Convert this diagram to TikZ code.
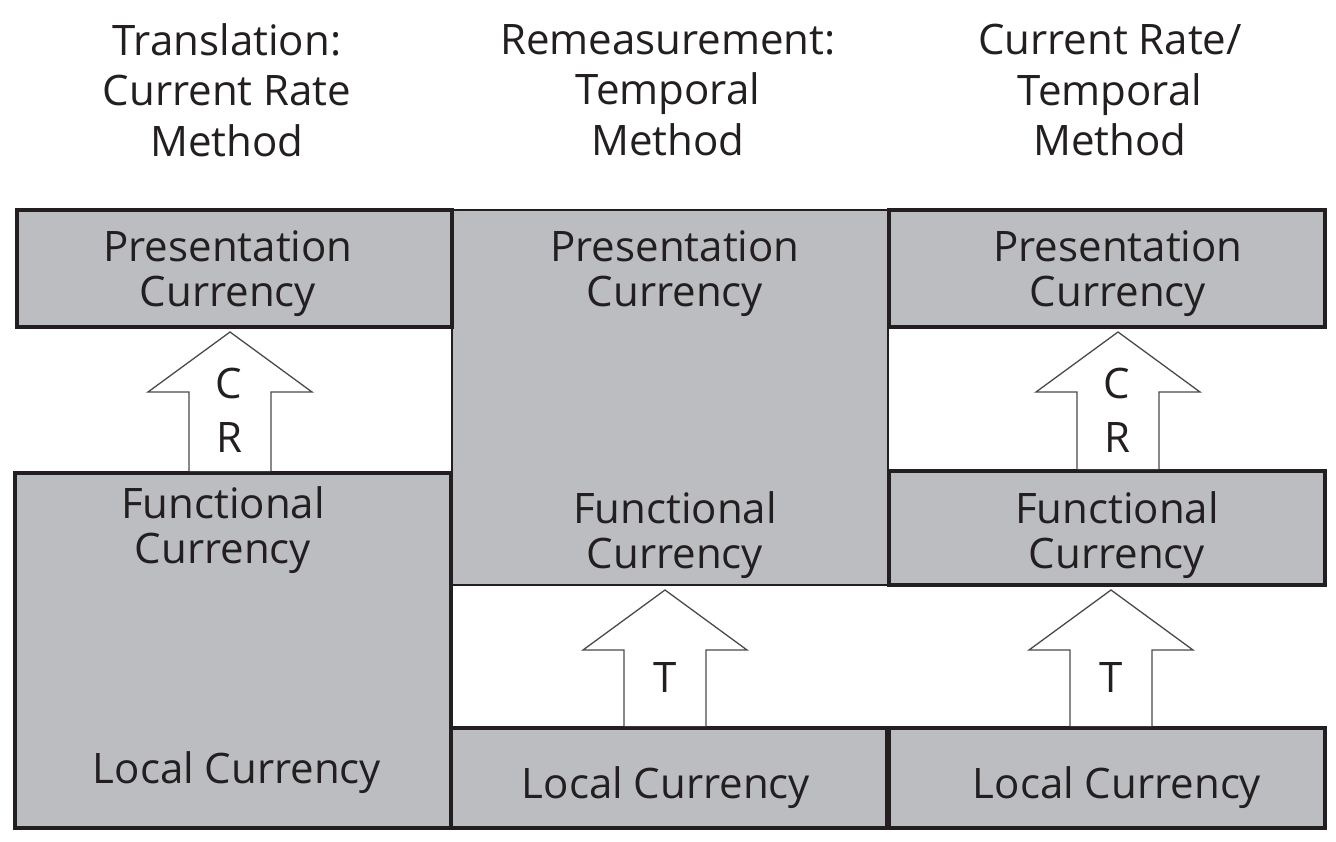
\documentclass[tikz,border=0pt]{standalone}
\usepackage{fontspec}
\setmainfont{Open Sans}
\usetikzlibrary{calc}
\definecolor{ink}{HTML}{231F20}
\definecolor{boxgray}{HTML}{BCBDC0}
\definecolor{arrowline}{HTML}{4A4A4A}
\begin{document}
\begin{tikzpicture}[x=1pt,y=-1pt,
  box/.style={draw=ink, line width=4pt, fill=boxgray, inner sep=0pt, outer sep=0pt},
  thinbox/.style={box, line width=1.5pt},
  lbl/.style={text=ink, font=\fontsize{42}{45}\selectfont, align=center, inner sep=0pt},
  ttl/.style={lbl, font=\fontsize{42}{50.5}\selectfont},
  ltr/.style={lbl, font=\fontsize{42}{54}\selectfont},
  uparrow/.style={draw=arrowline, fill=white, line width=1.3pt, line join=miter}]
\useasboundingbox (0,0) rectangle (1336,842);
\node[ttl] (ttl1) at (227,90) {Translation:\\Current Rate\\Method};
\node[ttl] (ttl2) at (668,90) {Remeasurement:\\Temporal\\Method};
\node[ttl] (ttl3) at (1110,90) {Current Rate/\\Temporal\\Method};
\node[thinbox, minimum width=436pt, minimum height=375pt] (big2) at (670,397.5){};
\node[box, minimum width=435pt, minimum height=117pt] (pres1) at (234.5,268.5){};
\node[box, minimum width=436pt, minimum height=355pt] (fl1) at (233,650.5){};
\node[box, minimum width=436pt, minimum height=100pt] (loc2) at (669,778){};
\node[box, minimum width=436pt, minimum height=117pt] (pres3) at (1107,268.5){};
\node[box, minimum width=436pt, minimum height=114pt] (fun3) at (1107,528){};
\node[box, minimum width=436pt, minimum height=100pt] (loc3) at (1107,778){};
\coordinate (a1) at (230,0);
\coordinate (a2) at (665,0);
\coordinate (a3) at (1118,0);
\coordinate (a4) at (1111,0);
\draw[uparrow] ($(fl1.north -| a1)+(-41,-2)$) |- ($(pres1.south -| a1)+(-82,65)$) -- ($(pres1.south -| a1)+(0,5)$) -- ++(82,60) -- ++(-41,0) -- ($(fl1.north -| a1)+(41,-2)$);
\draw[uparrow] ($(loc2.north -| a2)+(-41,-2)$) |- ($(big2.south -| a2)+(-82,65)$) -- ($(big2.south -| a2)+(0,5)$) -- ++(82,60) -- ++(-41,0) -- ($(loc2.north -| a2)+(41,-2)$);
\draw[uparrow] ($(fun3.north -| a3)+(-41,-2)$) |- ($(pres3.south -| a3)+(-82,65)$) -- ($(pres3.south -| a3)+(0,5)$) -- ++(82,60) -- ++(-41,0) -- ($(fun3.north -| a3)+(41,-2)$);
\draw[uparrow] ($(loc3.north -| a4)+(-41,-2)$) |- ($(fun3.south -| a4)+(-82,65)$) -- ($(fun3.south -| a4)+(0,5)$) -- ++(82,60) -- ++(-41,0) -- ($(loc3.north -| a4)+(41,-2)$);
\node[lbl] (txtP1) at (228,273.5) {Presentation\\Currency};
\node[lbl] (txtP2) at (675,273.5) {Presentation\\Currency};
\node[lbl] (txtP3) at (1118,273.5) {Presentation\\Currency};
\node[lbl] (txtF1) at (223,530) {Functional\\Currency};
\node[lbl] (txtF2) at (675,535) {Functional\\Currency};
\node[lbl] (txtF3) at (1117,535) {Functional\\Currency};
\node[lbl, anchor=base] (txtL1) at (237,783) {Local Currency};
\node[lbl, anchor=base] (txtL2) at (666,798) {Local Currency};
\node[lbl, anchor=base] (txtL3) at (1117,798) {Local Currency};
\node[ltr] (cr1) at (229,410) {C\\R};
\node[ltr] (cr3) at (1117,410) {C\\R};
\node[lbl, anchor=base] (t2) at (665,692) {T};
\node[lbl, anchor=base] (t4) at (1111,692) {T};
\end{tikzpicture}
\end{document}
